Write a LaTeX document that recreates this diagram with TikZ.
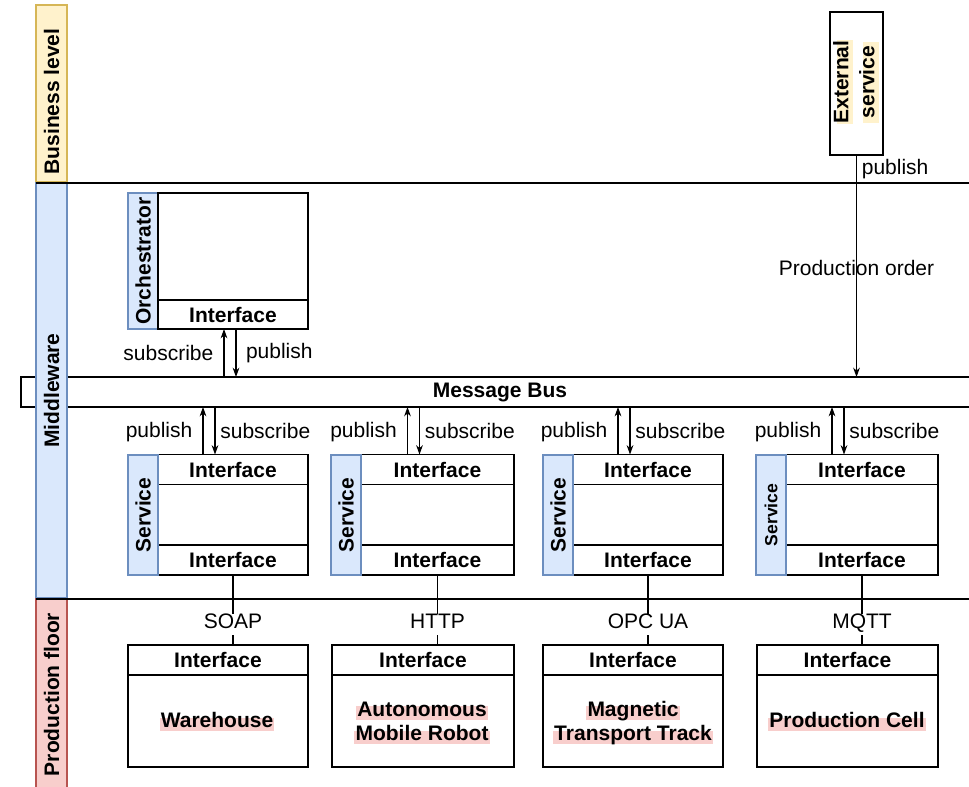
\documentclass[tikz,border=0pt]{standalone}
\usepackage{fontspec}
\setmainfont{Liberation Sans}
\usetikzlibrary{arrows.meta,calc}
\definecolor{ylwF}{HTML}{FFF2CC}
\definecolor{ylwD}{HTML}{D6B656}
\definecolor{bluF}{HTML}{DAE8FC}
\definecolor{bluD}{HTML}{6C8EBF}
\definecolor{redF}{HTML}{F8CECC}
\definecolor{redD}{HTML}{B85450}
\begin{document}
\begin{tikzpicture}[x=0.75pt,y=-0.75pt,
  every node/.style={font=\fontsize{15.75}{18}\selectfont, inner sep=0pt, outer sep=0pt},
  bold/.style={font=\fontsize{15.75}{18}\selectfont\bfseries},
  sz/.style 2 args={minimum width=#1*0.75pt, minimum height=#2*0.75pt},
  plainbox/.style={draw, line width=1.1pt, fill=white},
  lanebox/.style={line width=1.1pt, rotate=90, bold},
  bluelbl/.style={draw=bluD, fill=bluF, line width=1.1pt, rotate=90, bold},
  arr/.style={line width=0.8pt, -{Stealth[length=7pt,width=5pt,inset=2.2pt]}},
  conn/.style={line width=0.8pt},
  sepline/.style={line width=0.8pt},
  lbl/.style={fill=white, inner xsep=1pt, inner ysep=3.4pt, text height=0.72em, text depth=0.2em},
  hlR/.style={bold, fill=redF, inner xsep=0.8pt, inner ysep=0.6pt, text height=0.72em, text depth=0.2em},
  hlY/.style={bold, fill=ylwF, rotate=90, inner xsep=0.5pt, inner ysep=1.5pt, text height=0.72em, text depth=0.2em}
]
\useasboundingbox (0,0) rectangle (969,786);

% message bus (behind the lane labels)
\node[plainbox, bold, sz={958}{30}] (bus) at (500,392) {Message Bus};

% lanes
\node[lanebox, draw=ylwD, fill=ylwF, sz={177}{31}] (laneB) at (51.5,93.5) {};
\node[bold, rotate=90] (laneBt) at (51.5,101.5) {Business level};
\node[lanebox, draw=bluD, fill=bluF, sz={415}{31}] (laneM) at (51.5,390.5) {Middleware};
\node[lanebox, draw=redD, fill=redF, sz={191}{31}] (laneP) at (51.5,694.5) {Production floor};
\draw[sepline] (36,183) -- (975,183);
\draw[sepline] (36,599) -- (975,599);

% external service
\node[plainbox, sz={53}{143}] (ext) at (856.5,83.5) {};
\node[hlY] (extA) at (845,82) {External};
\node[hlY, minimum width=81*0.75pt] (extB) at (871,82) {service};
\draw[arr] (ext.south) -- (ext.south |- bus.north)
  node[pos=0.065, anchor=west, xshift=4pt] {publish}
  node[pos=0.51] {Production order};

% orchestrator
\node[bluelbl, sz={136}{30}] (orchL) at (143,261) {Orchestrator};
\node[plainbox, sz={150}{136}] (orch) at (233,261) {};
\node[plainbox, bold, sz={150}{29}] (orchI) at (233,314.5) {Interface};
\coordinate (ou) at ([xshift=-9*0.75pt]orchI.south);
\coordinate (od) at ([xshift=3*0.75pt]orchI.south);
\draw[arr] (ou |- bus.north) -- (ou) node[midway, left=8pt] {subscribe};
\draw[arr] (od) -- (od |- bus.north) node[midway, right=7.5pt] {publish};

% services
\foreach \n/\cx/\w in {1/233/150, 2/437.5/153, 3/648/150, 4/862/152} {
  \node[plainbox, sz={\w}{120}] (s\n) at (\cx,515) {};
  \node[plainbox, bold, sz={\w}{30}] (st\n) at (\cx,469.5) {Interface};
  \node[plainbox, bold, sz={\w}{30}] (sb\n) at (\cx,560) {Interface};
  \coordinate (su\n) at ([xshift=-30*0.75pt]st\n.north);
  \coordinate (sd\n) at ([xshift=-18*0.75pt]st\n.north);
  \draw[arr] (su\n) -- (su\n |- bus.south) node[midway, left=8pt, yshift=-1.2pt] {publish};
  \draw[arr] (sd\n |- bus.south) -- (sd\n) node[midway, right=4pt] {subscribe};
}
\node[bluelbl, sz={120}{30}] (sl1) at (143,515) {Service};
\node[bluelbl, sz={120}{30}] (sl2) at (346,515) {Service};
\node[bluelbl, sz={120}{30}] (sl3) at (558,515) {Service};
\node[bluelbl, sz={120}{30}, font=\fontsize{13.2}{15}\selectfont\bfseries] (sl4) at (771,515) {Service};

% devices
\foreach \n/\cx/\w in {1/218/180, 2/423/182, 3/633/180, 4/847.5/181} {
  \node[plainbox, sz={\w}{122}] (d\n) at (\cx,706) {};
  \node[plainbox, bold, sz={\w}{30}] (di\n) at (\cx,660) {Interface};
}
\node[hlR] (n1) at (217,724.5) {Warehouse};
\node[hlR] (n2a) at (422,713) {Autonomous};
\node[hlR] (n2b) at (422,737.5) {Mobile Robot};
\node[hlR] (n3a) at (633,713) {Magnetic};
\node[hlR] (n3b) at (633,737.5) {Transport Track};
\node[hlR] (n4) at (847,724.5) {Production Cell};

% protocol links
\draw[conn] (sb1.south) -- (sb1.south |- di1.north) node[pos=0.71, lbl] {SOAP};
\draw[conn] (sb2.south) -- (sb2.south |- di2.north) node[pos=0.71, lbl] {HTTP};
\draw[conn] (sb3.south) -- (sb3.south |- di3.north) node[pos=0.71, lbl] {OPC UA};
\draw[conn] (sb4.south) -- (sb4.south |- di4.north) node[pos=0.71, lbl] {MQTT};
\end{tikzpicture}
\end{document}
